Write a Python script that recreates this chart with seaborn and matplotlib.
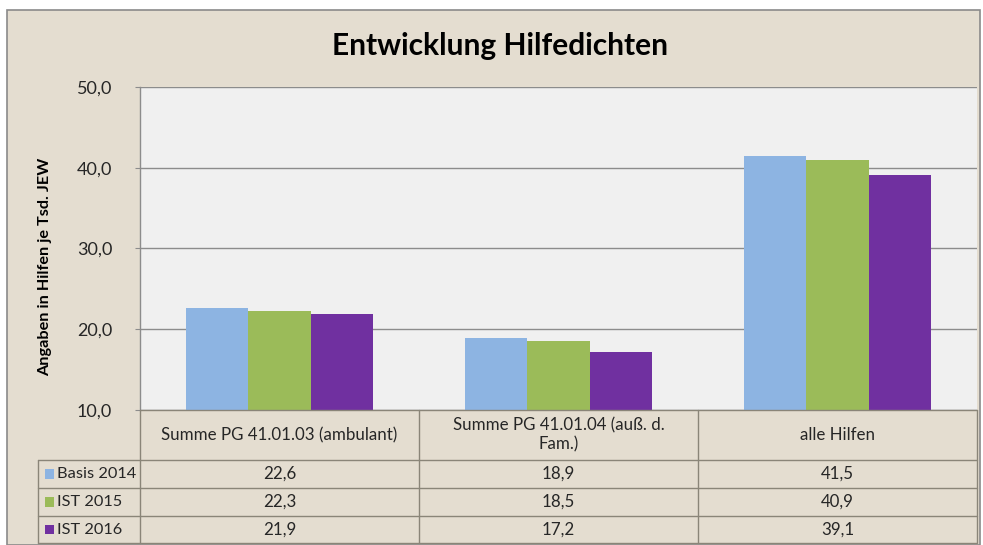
import matplotlib
matplotlib.use("Agg")
import matplotlib.pyplot as plt
import seaborn as sns
import pandas as pd
from matplotlib.patches import Rectangle
from matplotlib.lines import Line2D

categories = ["Summe PG 41.01.03 (ambulant)", "Summe PG 41.01.04 (auß. d.\nFam.)", "alle Hilfen"]
series = ["Basis 2014", "IST 2015", "IST 2016"]
basis_2014 = [22.6, 18.9, 41.5]
ist_2015 = [22.3, 18.5, 40.9]
ist_2016 = [21.9, 17.2, 39.1]
colors = ["#8db4e2", "#9bbb59", "#7030a0"]

values = [basis_2014, ist_2015, ist_2016]
df = pd.DataFrame({
    "Kategorie": categories * 3,
    "Serie": [s for s in series for _ in categories],
    "Wert": basis_2014 + ist_2015 + ist_2016,
})

sns.set_style("white")
plt.rcParams["font.family"] = ["Lato", "DejaVu Sans"]

W, H = 983, 545
bg = "#e4ddd0"
grid = "#8c8c8c"
fig = plt.figure(figsize=(W / 100, H / 100), dpi=100)
fig.patch.set_facecolor("white")


def fx(px):
    return px / W


def fy(py):
    return 1 - py / H


# outer chart frame, behind the axes
fig.patches.append(Rectangle((fx(7), fy(545)), fx(973), fy(10) - fy(545), transform=fig.transFigure,
                             facecolor=bg, edgecolor="#8a8a8a", linewidth=1.2, zorder=-5))

left, right, top, bottom = 140, 977, 87, 410
ax = fig.add_axes([fx(left), fy(bottom), fx(right - left), fy(top) - fy(bottom)])
ax.set_facecolor("#f0f0f0")

sns.barplot(data=df, x="Kategorie", y="Wert", hue="Serie", hue_order=series, order=categories,
            palette=colors, width=0.667, gap=0, saturation=1, ax=ax, legend=False, zorder=3)
for p in ax.patches:
    p.set_edgecolor("none")

ax.set_xlim(-0.5, 2.5)
ax.set_ylim(10, 50)
ax.set_yticks([10, 20, 30, 40, 50])
ax.set_yticklabels([f"{v:.1f}".replace(".", ",") for v in [10, 20, 30, 40, 50]],
                   fontsize=13, color="#262626")
ax.tick_params(axis="y", length=3.6, color=grid, pad=16.5, left=True)
ax.tick_params(axis="x", bottom=False, labelbottom=False)
ax.yaxis.grid(True, color=grid, linewidth=1, zorder=0)
ax.set_axisbelow(True)
ax.set_xlabel("")
ax.set_ylabel("")
for side in ["top", "right", "bottom"]:
    ax.spines[side].set_visible(False)
ax.spines["left"].set_color(grid)
ax.spines["left"].set_linewidth(1)

fig.text(fx(500), fy(46), "Entwicklung Hilfedichten", ha="center", va="center",
         fontsize=21.5, fontweight="bold", color="black")
fig.text(fx(45), fy(267), "Angaben in Hilfen je Tsd. JEW", ha="center", va="center",
         rotation=90, fontsize=11.7, fontweight="bold", color="black")

# data table
line_c = "#8a8578"
col_x = [left, 419, 698, right]
row_y = [bottom, 460, 488, 516, 543]
tb_left = 38


def hline(x0, x1, y):
    fig.lines.append(Line2D([fx(x0), fx(x1)], [fy(y), fy(y)], transform=fig.transFigure,
                            color=line_c, linewidth=1))


def vline(x, y0, y1):
    fig.lines.append(Line2D([fx(x), fx(x)], [fy(y0), fy(y1)], transform=fig.transFigure,
                            color=line_c, linewidth=1))


hline(left, right, row_y[0])
for y in row_y[1:]:
    hline(tb_left, right, y)
for x in col_x:
    vline(x, row_y[0], row_y[-1])
vline(tb_left, row_y[1], row_y[-1])

for i, cat in enumerate(categories):
    cx = (col_x[i] + col_x[i + 1]) / 2
    fig.text(fx(cx), fy((row_y[0] + row_y[1]) / 2), cat, ha="center", va="center",
             fontsize=12.2, color="#262626", linespacing=1.2)
    for j in range(3):
        fig.text(fx(cx), fy((row_y[j + 1] + row_y[j + 2]) / 2), f"{values[j][i]:.1f}".replace(".", ","),
                 ha="center", va="center", fontsize=12.2, color="#262626")

for j, name in enumerate(series):
    cy = (row_y[j + 1] + row_y[j + 2]) / 2
    fig.patches.append(Rectangle((fx(45), fy(cy + 4.5)), fx(9), fy(cy - 4.5) - fy(cy + 4.5),
                                 transform=fig.transFigure, facecolor=colors[j], edgecolor="none"))
    fig.text(fx(57), fy(cy), name, ha="left", va="center", fontsize=11.8, color="#262626")

fig.savefig("out.png", dpi=100, facecolor=fig.get_facecolor())
